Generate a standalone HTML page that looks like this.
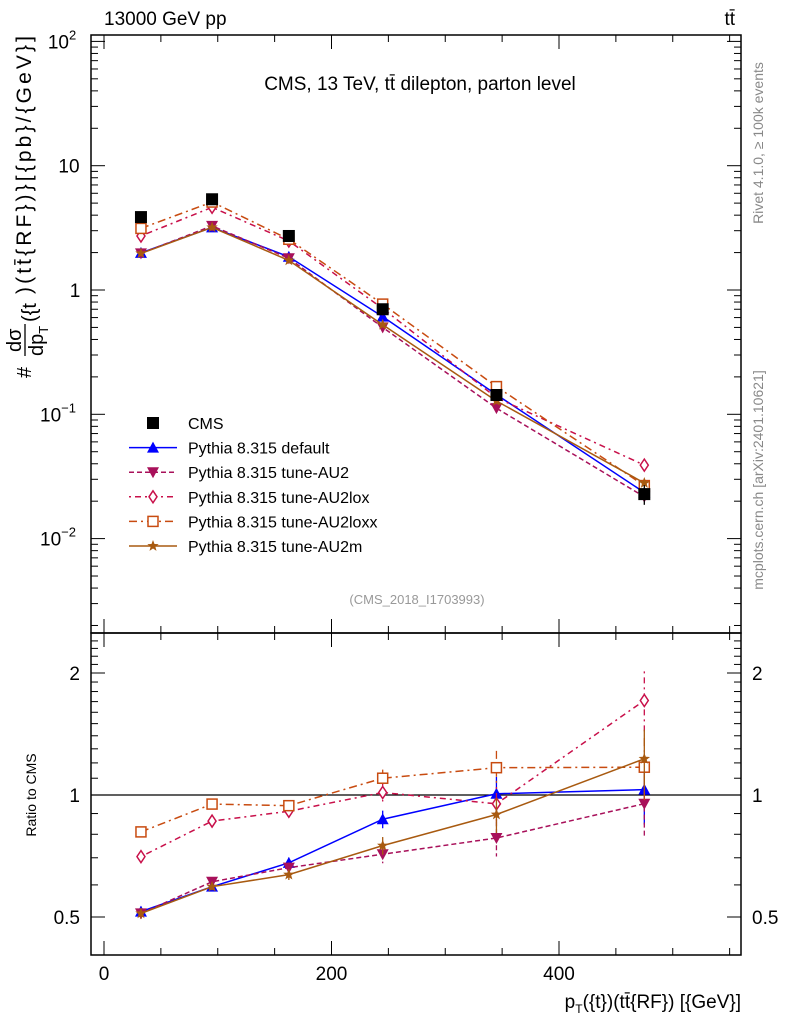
<!DOCTYPE html>
<html><head><meta charset="utf-8"><style>
body{margin:0;background:#fff;}
svg{display:block;font-family:"Liberation Sans",sans-serif;}
</style></head><body>
<svg id="chart" width="786" height="1024" viewBox="0 0 786 1024" xmlns="http://www.w3.org/2000/svg">
<text x="104" y="25" font-size="19">13000 GeV pp</text>
<text x="735" y="25" font-size="19" text-anchor="end">tt̄</text>
<text x="420" y="90" font-size="19" text-anchor="middle">CMS, 13 TeV, tt̄ dilepton, parton level</text>
<text x="417" y="604" font-size="13" fill="#999" text-anchor="middle">(CMS_2018_I1703993)</text>
<text transform="translate(763,143) rotate(-90)" font-size="14" fill="#888" text-anchor="middle">Rivet 4.1.0, ≥ 100k events</text>
<text transform="translate(763,480) rotate(-90)" font-size="14" fill="#888" text-anchor="middle">mcplots.cern.ch [arXiv:2401.10621]</text>
<g transform="translate(31,378) rotate(-90)">
 <text x="0" y="0" font-size="20">#</text>
 <text x="26" y="-10" font-size="20">dσ</text>
 <line x1="22" x2="54" y1="-6" y2="-6" stroke="#000" stroke-width="1.3"/>
 <text x="22" y="12" font-size="20">dp<tspan font-size="13" dy="5">T</tspan></text>
 <text x="56" y="5" font-size="20">({t</text>
 <text x="84" y="0" font-size="21" textLength="258" lengthAdjust="spacing">)(tt̄{RF})}[{pb}/{GeV}]</text>
</g>
<text transform="translate(36,795) rotate(-90)" font-size="14" text-anchor="middle">Ratio to CMS</text>
<text x="741" y="1008" font-size="19" text-anchor="end">p<tspan font-size="12" dy="5">T</tspan><tspan dy="-5">({t})(tt̄{RF}) [{GeV}]</tspan></text>
<g id="main"></g><g id="ratio"></g><g id="legend"></g>
</svg>
<script>
const xCenters=[32.5,95,162.5,245,345,475];
const cmsVals=[3.86,5.37,2.72,0.70,0.143,0.0228];
const cmsRelErr=[0.03,0.02,0.03,0.05,0.10,0.18];
const defaultVals=[1.99,3.19,1.85,0.61,0.144,0.0235];
const au2Vals=[1.97,3.28,1.80,0.50,0.112,0.0217];
const au2loxVals=[2.72,4.63,2.48,0.71,0.136,0.039];
const au2loxxVals=[3.13,5.10,2.56,0.77,0.167,0.0267];
const au2mVals=[1.97,3.19,1.73,0.525,0.128,0.028];
const xTickLabels=[0,200,400];
const yTickExps=[2,1,0,-1,-2];
const ratioTickLabels=[0.5,1,2];

const NS="http://www.w3.org/2000/svg";
const L=91,R=741,MT=35,MB=633,RB=955;
const X=v=>104+(v)*1.1375;
const Y=v=>290-Math.log10(v)*124.3;
const YR=r=>795-Math.log2(r)*122;
function el(tag,attrs,parent){const e=document.createElementNS(NS,tag);for(const k in attrs)e.setAttribute(k,attrs[k]);parent.appendChild(e);return e;}
const main=document.getElementById('main'),ratio=document.getElementById('ratio'),leg=document.getElementById('legend');

let f=el('rect',{x:L,y:MT,width:R-L,height:MB-MT,fill:'none',stroke:'#000','stroke-width':1.5},main);

f=el('rect',{x:L,y:MB,width:R-L,height:RB-MB,fill:'none',stroke:'#000','stroke-width':1.5},ratio);


for(let v=0;v<=550;v+=50){const maj=v%200===0;const len=maj?14:7;const x=X(v);
 for(const [yb,dir] of [[MB,-1],[MT,1],[RB,-1],[MB,1]]){const t=el('line',{x1:x,x2:x,y1:yb,y2:yb+dir*len,stroke:'#000'},ratio);
 }}
xTickLabels.forEach(v=>{const t=el('text',{x:X(v),y:980,'font-size':19,'text-anchor':'middle'},ratio);t.textContent=v;
 });

for(let e=-3;e<=2;e++){for(let m=1;m<=9;m++){const v=m*Math.pow(10,e);const y=Y(v);if(y<MT||y>MB)continue;const len=m===1?14:7;
 for(const [xb,dir] of [[L,1],[R,-1]]){const t=el('line',{x1:xb,x2:xb+dir*len,y1:y,y2:y,stroke:'#000'},main);
 }}}
yTickExps.forEach(e=>{const t=el('text',{x:80,y:Y(Math.pow(10,e))+7,'font-size':19,'text-anchor':'middle'},main);
 if(e===1)t.textContent='10';else if(e===0)t.textContent='1';else{t.textContent='10';const s=el('tspan',{'font-size':13,dy:-9},t);s.textContent=e===2?'2':(e===-1?'−1':'−2');}
 t.setAttribute('x',e===2?62:(e===1?69:(e===0?75:58)));
 });

for(let r=0.4;r<=2.5;r+=0.1){const y=YR(r);if(y<MB||y>RB)continue;const maj=[0.5,1,2].some(q=>Math.abs(q-r)<1e-6);const len=maj?14:7;
 for(const [xb,dir] of [[L,1],[R,-1]]){const t=el('line',{x1:xb,x2:xb+dir*len,y1:y,y2:y,stroke:'#000'},ratio);
 }}
ratioTickLabels.forEach(r=>{for(const [x,a] of [[80,'end'],[752,'start']]){const t=el('text',{x:x,y:YR(r)+7,'font-size':19,'text-anchor':a},ratio);t.textContent=r;
 }});
let rl=el('line',{x1:L,x2:R,y1:YR(1),y2:YR(1),stroke:'#000','stroke-width':1.3},ratio);


const series=[
 {name:'default',label:'Pythia 8.315 default',vals:defaultVals,color:'#0000ff',dash:'',mk:'tri'},
 {name:'au2',label:'Pythia 8.315 tune-AU2',vals:au2Vals,color:'#a8105a',dash:'5,3',mk:'itri'},
 {name:'au2lox',label:'Pythia 8.315 tune-AU2lox',vals:au2loxVals,color:'#c8104a',dash:'2,4,6,4',mk:'dia'},
 {name:'au2loxx',label:'Pythia 8.315 tune-AU2loxx',vals:au2loxxVals,color:'#c84b10',dash:'8,4,2,4',mk:'sq'},
 {name:'au2m',label:'Pythia 8.315 tune-AU2m',vals:au2mVals,color:'#a85a10',dash:'',mk:'star'}];

function marker(type,x,y,c,g){let m;
 if(type==='tri')m=el('polygon',{points:`${x},${y-6} ${x-6},${y+5} ${x+6},${y+5}`,fill:c},g);
 else if(type==='itri')m=el('polygon',{points:`${x},${y+6} ${x-6},${y-5} ${x+6},${y-5}`,fill:c},g);
 else if(type==='dia')m=el('polygon',{points:`${x},${y-6} ${x-4},${y} ${x},${y+6} ${x+4},${y}`,fill:'#fff',stroke:c,'stroke-width':1.5},g);
 else if(type==='sq')m=el('rect',{x:x-5,y:y-5,width:10,height:10,fill:'#fff',stroke:c,'stroke-width':1.5},g);
 else if(type==='star'){let p=[];for(let i=0;i<10;i++){const r=i%2?2.5:6;const a=-Math.PI/2+i*Math.PI/5;p.push((x+r*Math.cos(a)).toFixed(1)+','+(y+r*Math.sin(a)).toFixed(1));}m=el('polygon',{points:p.join(' '),fill:c},g);}
 else m=el('rect',{x:x-6,y:y-6,width:12,height:12,fill:c},g);
 return m;}

series.forEach(s=>{
 const g=el('g',{},main);
 const pl=el('polyline',{points:s.vals.map((v,i)=>X(xCenters[i])+','+Y(v)).join(' '),fill:'none',stroke:s.color,'stroke-width':1.5,'stroke-dasharray':s.dash},g);
 
 s.vals.forEach((v,i)=>{const m=marker(s.mk,X(xCenters[i]),Y(v),s.color,g);});
 const gr=el('g',{},ratio);
 const rv=s.vals.map((v,i)=>v/cmsVals[i]);
 const rp=el('polyline',{points:rv.map((r,i)=>X(xCenters[i])+','+YR(r)).join(' '),fill:'none',stroke:s.color,'stroke-width':1.5,'stroke-dasharray':s.dash},gr);
 
 rv.forEach((r,i)=>{const x=X(xCenters[i]);const e=cmsRelErr[i];
  const eb=el('line',{x1:x,x2:x,y1:YR(r*(1+e)),y2:YR(r*(1-e)),stroke:s.color,'stroke-width':1.3,'stroke-dasharray':s.dash},gr);
  
  const m=marker(s.mk,x,YR(r),s.color,gr);});
});
const gc=el('g',{},main);
cmsVals.forEach((v,i)=>{const x=X(xCenters[i]);
 const eb=el('line',{x1:x,x2:x,y1:Y(v*(1+cmsRelErr[i])),y2:Y(v*(1-cmsRelErr[i])),stroke:'#000','stroke-width':1.3},gc);
 
 const m=marker('cms',x,Y(v),'#000',gc);});

const entries=[{label:'CMS',mk:'cms',color:'#000',dash:null}].concat(series);
entries.forEach((s,i)=>{const y=423+24.6*i;
 const g=el('g',{},leg);
 if(s.dash!==null){const l=el('line',{x1:129,x2:177,y1:y,y2:y,stroke:s.color,'stroke-width':1.5,'stroke-dasharray':s.dash},g);
  }
 const m=marker(s.mk,153,y,s.color,g);
 const t=el('text',{x:188,y:y+6,'font-size':16},g);t.textContent=s.label;
 });
</script>
</body></html>
